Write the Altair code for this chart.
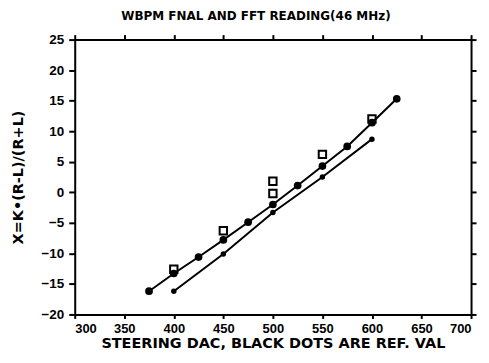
import altair as alt
import pandas as pd

ref_x = [375, 400, 425, 450, 475, 500, 525, 550, 575, 600, 625]
ref_y = [-16.2, -13.3, -10.6, -7.8, -4.9, -2.0, 1.1, 4.3, 7.5, 11.4, 15.3]

low_x = [400, 450, 500, 550, 600]
low_y = [-16.2, -10.1, -3.3, 2.5, 8.7]

fft_x = [400, 450, 500, 500, 550, 600]
fft_y = [-12.6, -6.3, 1.8, -0.2, 6.2, 12.0]

x_ticks = [300, 350, 400, 450, 500, 550, 600, 650, 700]
y_ticks = [25, 20, 15, 10, 5, 0, -5, -10, -15, -20]

ref = pd.DataFrame({"x": ref_x, "y": ref_y})
low = pd.DataFrame({"x": low_x, "y": low_y})
fft = pd.DataFrame({"x": fft_x, "y": fft_y})

FONT = "DejaVu Sans"
LFONT = "Liberation Sans"

xs = alt.Scale(domain=[300, 700], nice=False, zero=False)
ys = alt.Scale(domain=[-20, 25], nice=False, zero=False)

common = dict(grid=False, domain=True, domainColor="black", domainWidth=2,
              tickColor="black", tickWidth=2, labelOverlap=False,
              labelFont=LFONT, labelFontWeight="bold",
              labelColor="black", titleFont=FONT, titleFontWeight="bold",
              titleColor="black")

xax = alt.Axis(values=x_ticks, title="STEERING DAC, BLACK DOTS ARE REF. VAL",
               tickSize=4, labelPadding=4, labelFontSize=13, titleFontSize=14.5,
               titlePadding=1, **common)
yax = alt.Axis(values=y_ticks, title="X=K•(R-L)/(R+L)",
               tickSize=6, labelPadding=5, labelFontSize=13.5, titleFontSize=14.5,
               titlePadding=16, **common)

bx = alt.X("x:Q", scale=xs, axis=xax)
by = alt.Y("y:Q", scale=ys, axis=yax)

ref_line = alt.Chart(ref).mark_line(color="black", strokeWidth=2).encode(x=bx, y=by)
ref_pts = alt.Chart(ref).mark_point(filled=True, color="black", size=60, opacity=1,
                                    shape="circle").encode(x=bx, y=by)
low_line = alt.Chart(low).mark_line(color="black", strokeWidth=2).encode(x=bx, y=by)
low_pts = alt.Chart(low).mark_point(filled=True, color="black", size=30, opacity=1,
                                    shape="circle").encode(x=bx, y=by)
fft_pts = alt.Chart(fft).mark_point(filled=False, color="black", size=55, strokeWidth=2,
                                    shape="square", opacity=1).encode(x=bx, y=by)

frame = alt.Chart(ref).mark_point(opacity=0).encode(
    x=alt.X("x:Q", scale=xs, axis=alt.Axis(orient="top", values=x_ticks, labels=False,
            title=None, grid=False, domainColor="black", domainWidth=2,
            tickColor="black", tickWidth=2, tickSize=5)),
    y=alt.Y("y:Q", scale=ys, axis=alt.Axis(orient="right", values=y_ticks, labels=False,
            title=None, grid=False, domainColor="black", domainWidth=2,
            tickColor="black", tickWidth=2, tickSize=5)),
)

main = alt.layer(ref_line, low_line, ref_pts, low_pts, fft_pts)

chart = alt.layer(main, frame).resolve_axis(x="independent", y="independent").properties(
    width=398, height=276,
    title=alt.TitleParams("WBPM FNAL AND FFT READING(46 MHz)", font=FONT, fontWeight="bold",
                          fontSize=12, color="black", offset=10, dx=-17),
    autosize=alt.AutoSizeParams(type="none"),
    padding={"left": 67, "top": 31, "right": 10, "bottom": 40},
).configure_view(stroke=None).configure(background="white")

chart.save("out.html", embed_options={"renderer": "svg", "actions": False})
